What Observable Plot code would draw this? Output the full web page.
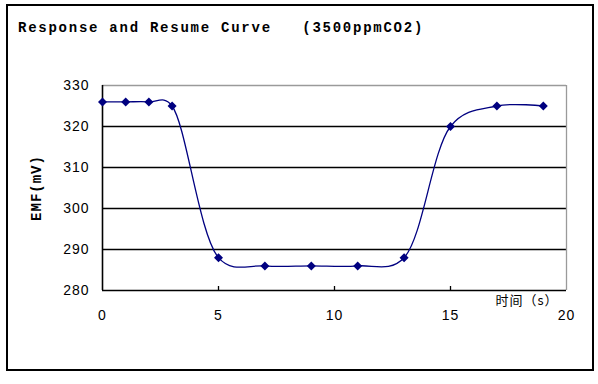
<!DOCTYPE html>
<html><head><meta charset="utf-8">
<script src="https://cdn.jsdelivr.net/npm/d3@7"></script>
<script src="https://cdn.jsdelivr.net/npm/@observablehq/plot@0.6"></script>
<style>
body{margin:0;background:#fff;}
#wrap{position:relative;width:598px;height:384px;background:#fff;}
#border{position:absolute;left:6px;top:4px;width:584px;height:363px;border:2px solid #000;}
#title{position:absolute;left:18px;top:20px;font:bold 14px "Liberation Mono";letter-spacing:1.75px;white-space:pre;color:#000;}
#chart{position:absolute;left:0;top:0;}
#chart svg text{letter-spacing:1px;}
</style></head>
<body><div id="wrap"><div id="border"></div><div id="title"></div><div id="chart"></div></div>
<script>
const title = "Response and Resume Curve   (3500ppmCO2)";
const timeS = [0, 1, 2, 3, 5, 7, 9, 11, 13, 15, 17, 19];
const emf = [326, 326, 326, 325, 288, 286, 286, 286, 288, 320, 325, 325];
const xTicks = [0, 5, 10, 15, 20];
const yTicks = [280, 290, 300, 310, 320, 330];
const gridY = [290, 300, 310, 320];
const xLabel = "时间（s）";
const yLabel = "EMF(mV)";

document.getElementById("title").textContent = title;
const data = timeS.map((t, i) => ({t, v: emf[i]}));
const plot = Plot.plot({
  width: 598, height: 384,
  marginLeft: 102, marginRight: 32, marginTop: 85, marginBottom: 94,
  x: {domain: [0, 20]},
  y: {domain: [280, 330]},
  style: {background: "transparent", fontFamily: "Liberation Sans", fontSize: "14px", color: "#000", overflow: "visible"},
  marks: [
    Plot.ruleY(gridY, {stroke: "#000", strokeWidth: 1.3}),
    Plot.ruleY([yTicks[yTicks.length - 1]], {stroke: "#9a9a9a", strokeWidth: 1.3}),
    Plot.ruleX([xTicks[xTicks.length - 1]], {stroke: "#9a9a9a", strokeWidth: 1.3}),
    Plot.ruleX([xTicks[0]], {stroke: "#000", strokeWidth: 1.6}),
    Plot.ruleY([yTicks[0]], {stroke: "#000", strokeWidth: 1.6}),
    Plot.tickX(xTicks.slice(1, -1), {stroke: "#000", strokeWidth: 1.3, insetTop: 201}),
    Plot.axisY({ticks: yTicks, tickSize: 0, tickPadding: 13, label: null, fontSize: 14}),
    Plot.axisX({ticks: xTicks, tickSize: 0, tickPadding: 20, label: null, fontSize: 14}),
    Plot.line(data, {x: "t", y: "v", curve: "catmull-rom", tension: 0.3, stroke: "#000080", strokeWidth: 1.3}),
    Plot.dot(data, {x: "t", y: "v", symbol: "square", rotate: 45, r: 3.6, fill: "#000080", stroke: null}),
    Plot.text([xLabel], {frameAnchor: "bottom-right", textAnchor: "start", dx: -71, dy: 14, fontSize: 13, fontFamily: "Noto Sans CJK SC"}),
    Plot.text([yLabel], {frameAnchor: "left", textAnchor: "middle", rotate: -90, dx: -66, fontSize: 14, fontWeight: "bold", fontFamily: "Liberation Mono"})
  ]
});
document.getElementById("chart").appendChild(plot);
</script>
</body></html>
